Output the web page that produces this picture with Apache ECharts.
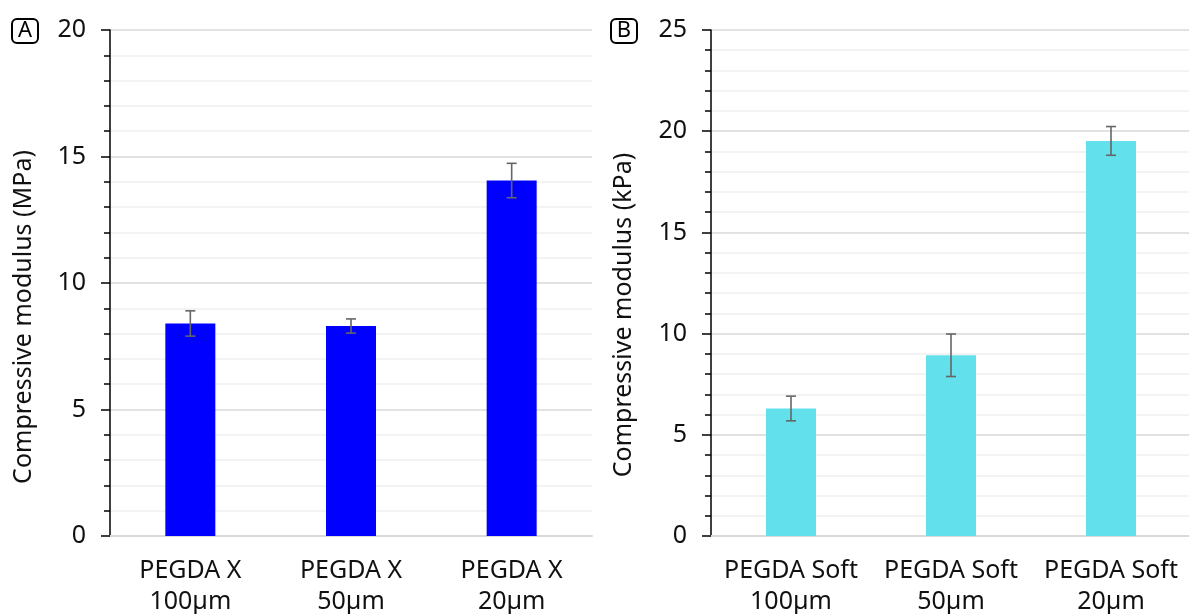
<!DOCTYPE html>
<html>
<head>
<meta charset="utf-8">
<script src="https://cdn.jsdelivr.net/npm/echarts@6/dist/echarts.min.js"></script>
<style>
html,body{margin:0;padding:0;background:#fff;}
#chart{width:1189px;height:614px;}
</style>
</head>
<body>
<div id="chart"></div>
<script>
// ---- data ----
var categoriesA = ['PEGDA X\n100µm', 'PEGDA X\n50µm', 'PEGDA X\n20µm'];
var valuesA = [8.4, 8.3, 14.05];
var errorsA = [0.5, 0.28, 0.68];

var categoriesB = ['PEGDA Soft\n100µm', 'PEGDA Soft\n50µm', 'PEGDA Soft\n20µm'];
var valuesB = [6.3, 8.93, 19.52];
var errorsB = [0.61, 1.05, 0.71];

var yTitleA = 'Compressive modulus (MPa)';
var yTitleB = 'Compressive modulus (kPa)';
var colorA = '#0000FF';
var colorB = '#62E0EC';

var FONT = '"Noto Sans", "Open Sans", sans-serif';

function errData(vals, errs) {
  return vals.map(function (v, i) { return [i, v - errs[i], v + errs[i]]; });
}

function errRender(params, api) {
  var x = api.value(0);
  var lo = api.coord([x, api.value(1)]);
  var hi = api.coord([x, api.value(2)]);
  var cap = 5;
  var style = { stroke: '#666666', lineWidth: 1.6 };
  return {
    type: 'group',
    children: [
      { type: 'line', shape: { x1: hi[0], y1: hi[1], x2: lo[0], y2: lo[1] }, style: style },
      { type: 'line', shape: { x1: hi[0] - cap, y1: hi[1], x2: hi[0] + cap, y2: hi[1] }, style: style },
      { type: 'line', shape: { x1: lo[0] - cap, y1: lo[1], x2: lo[0] + cap, y2: lo[1] }, style: style }
    ]
  };
}

function yAxisCfg(idx, max) {
  return {
    type: 'value', gridIndex: idx, min: 0, max: max, interval: 5,
    axisLine: { show: true, lineStyle: { color: '#000', width: 1.5 } },
    axisTick: { show: true, length: 9, lineStyle: { color: '#000', width: 1.5 } },
    minorTick: { show: true, splitNumber: 5, length: 6, lineStyle: { color: '#000', width: 1.5 } },
    splitLine: { show: true, lineStyle: { color: '#d9d9d9', width: 1.5 } },
    minorSplitLine: { show: true, lineStyle: { color: '#f0f0f0', width: 1.5 } },
    axisLabel: { fontFamily: FONT, fontSize: 25, color: '#111', margin: 24 }
  };
}

function xAxisCfg(idx, cats) {
  return {
    type: 'category', gridIndex: idx, data: cats,
    axisLine: { show: true, lineStyle: { color: '#d9d9d9', width: 2 } },
    axisTick: { show: false },
    axisLabel: { fontFamily: FONT, fontSize: 25, color: '#111', margin: 19, lineHeight: 31, interval: 0 }
  };
}

var chart = echarts.init(document.getElementById('chart'));
chart.setOption({
  backgroundColor: '#fff',
  animation: false,
  grid: [
    { left: 110, top: 30, width: 482, height: 506, outerBoundsMode: 'none', containLabel: false },
    { left: 711, top: 30, width: 480, height: 506, outerBoundsMode: 'none', containLabel: false }
  ],
  xAxis: [xAxisCfg(0, categoriesA), xAxisCfg(1, categoriesB)],
  yAxis: [yAxisCfg(0, 20), yAxisCfg(1, 25)],
  series: [
    { type: 'bar', xAxisIndex: 0, yAxisIndex: 0, data: valuesA, barWidth: 50,
      itemStyle: { color: colorA } },
    { type: 'custom', xAxisIndex: 0, yAxisIndex: 0, data: errData(valuesA, errorsA),
      renderItem: errRender, z: 5 },
    { type: 'bar', xAxisIndex: 1, yAxisIndex: 1, data: valuesB, barWidth: 50,
      itemStyle: { color: colorB } },
    { type: 'custom', xAxisIndex: 1, yAxisIndex: 1, data: errData(valuesB, errorsB),
      renderItem: errRender, z: 5 }
  ],
  graphic: [
    { type: 'text', x: 24, y: 317, rotation: Math.PI / 2,
      style: { text: yTitleA, font: '25px ' + FONT, fill: '#111', textAlign: 'center', textVerticalAlign: 'middle' } },
    { type: 'text', x: 624, y: 315, rotation: Math.PI / 2,
      style: { text: yTitleB, font: '25px ' + FONT, fill: '#111', textAlign: 'center', textVerticalAlign: 'middle' } },
    { type: 'rect', shape: { x: 12, y: 19, width: 26, height: 24, r: 5 },
      style: { fill: 'none', stroke: '#000', lineWidth: 2 } },
    { type: 'text', x: 25, y: 31,
      style: { text: 'A', font: '22px ' + FONT, fill: '#000', textAlign: 'center', textVerticalAlign: 'middle' } },
    { type: 'rect', shape: { x: 611, y: 19, width: 26, height: 24, r: 5 },
      style: { fill: 'none', stroke: '#000', lineWidth: 2 } },
    { type: 'text', x: 624, y: 31,
      style: { text: 'B', font: '22px ' + FONT, fill: '#000', textAlign: 'center', textVerticalAlign: 'middle' } }
  ]
});
</script>
</body>
</html>
